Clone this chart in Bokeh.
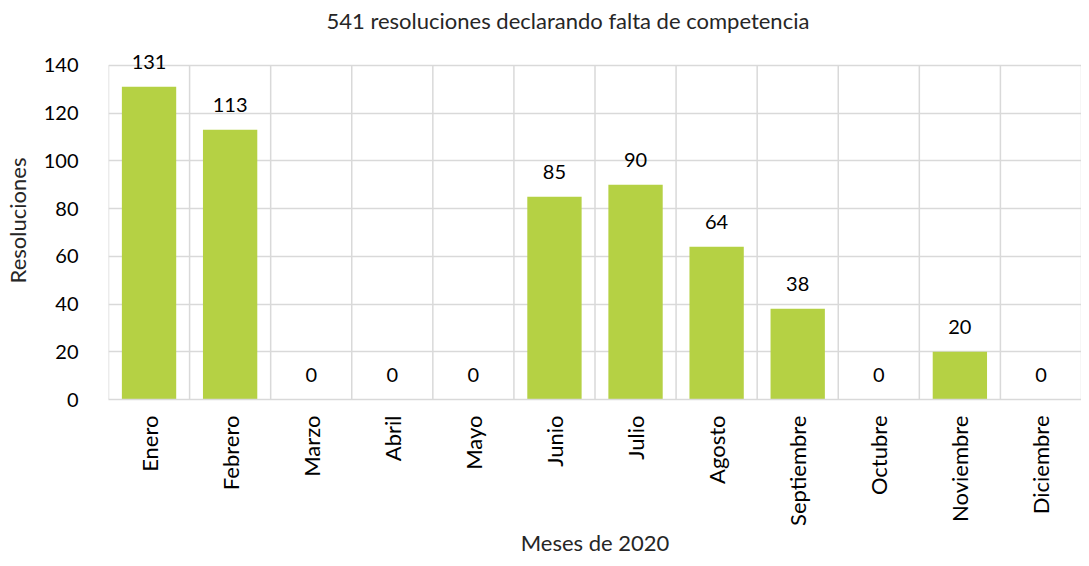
import math
from bokeh.plotting import figure
from bokeh.models import FixedTicker, ColumnDataSource, Range1d, LabelSet
from bokeh.core.properties import value
from bokeh.embed import file_html
from bokeh.resources import INLINE

months = ["Enero", "Febrero", "Marzo", "Abril", "Mayo", "Junio", "Julio",
          "Agosto", "Septiembre", "Octubre", "Noviembre", "Diciembre"]
values = [131, 113, 0, 0, 0, 85, 90, 64, 38, 0, 20, 0]
y_ticks = [0, 20, 40, 60, 80, 100, 120, 140]
title_text = "541 resoluciones declarando falta de competencia"
x_label = "Meses de 2020"
y_label = "Resoluciones"

FONT = "Lato"
BAR = "#B5D144"
GRID = "#D9D9D9"
TXT = "#262626"

n = len(months)
xs = [i + 0.5 for i in range(n)]
src = ColumnDataSource(dict(x=xs, top=values, lbl=[str(v) for v in values]))
ymax = y_ticks[-1]

# headroom above the top tick so that the value labels are not clipped
p = figure(width=1081, height=558, output_backend="svg", toolbar_location=None,
           x_range=Range1d(0, n), y_range=Range1d(0, ymax + 10),
           min_border_left=102, min_border_right=0, min_border_top=41,
           min_border_bottom=0)

p.title.text = title_text
p.title.align = "left"
p.title.vertical_align = "top"
p.title.text_font = FONT
p.title.text_font_size = "22px"
p.title.text_font_style = "normal"
p.title.text_color = TXT
p.title.offset = 218
p.title.standoff = 11

# vertical category separators (grid), ending at the top tick
bounds = list(range(n + 1))
p.segment(x0=bounds, y0=[0] * len(bounds), x1=bounds, y1=[ymax] * len(bounds),
          line_color=GRID, line_width=1.5)

p.vbar(x="x", top="top", width=0.67, source=src, fill_color=BAR, line_color=None)

labels = LabelSet(x="x", y="top", text="lbl", source=src, text_align="center",
                  text_baseline="bottom", y_offset=18, text_font=value(FONT),
                  text_font_size=value("20px"), text_color="#000000")
p.add_layout(labels)

p.xaxis.ticker = FixedTicker(ticks=xs)
p.xaxis.major_label_overrides = {x: m for x, m in zip(xs, months)}
p.xaxis.major_label_orientation = math.pi / 2
p.yaxis.ticker = FixedTicker(ticks=y_ticks)
p.xgrid.visible = False
p.ygrid.ticker = FixedTicker(ticks=y_ticks)
p.ygrid.grid_line_color = GRID
p.ygrid.grid_line_width = 1.5

for ax in (p.xaxis, p.yaxis):
    ax.major_tick_in = 0
    ax.major_tick_out = 0
    ax.minor_tick_in = 0
    ax.minor_tick_out = 0
    ax.major_label_text_font = FONT
    ax.major_label_text_color = "#000000"
    ax.axis_label_text_font = FONT
    ax.axis_label_text_font_size = "22px"
    ax.axis_label_text_font_style = "normal"
    ax.axis_label_text_color = TXT

p.xaxis.major_label_text_font_size = "22px"
p.yaxis.major_label_text_font_size = "20px"
p.xaxis.axis_line_color = GRID
p.xaxis.axis_line_width = 1.5
p.yaxis.axis_line_color = None
p.xaxis.axis_label = x_label
p.yaxis.axis_label = y_label
p.xaxis.major_label_standoff = 16
p.yaxis.major_label_standoff = 30
p.xaxis.axis_label_standoff = 0
p.yaxis.axis_label_standoff = 10
p.outline_line_color = None

open("out.html", "w").write(file_html(p, INLINE))
